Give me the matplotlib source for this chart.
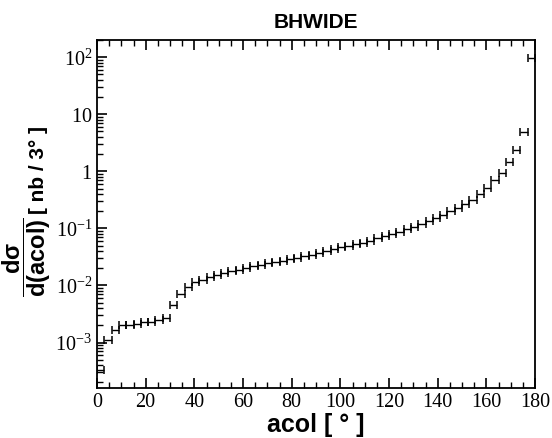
import matplotlib
matplotlib.use("Agg")
import matplotlib.pyplot as plt
import matplotlib.ticker as mticker
import numpy as np

plt.rcParams['mathtext.fontset'] = 'custom'
plt.rcParams['mathtext.rm'] = 'Liberation Serif'
plt.rcParams['mathtext.bf'] = 'Liberation Sans:bold'
plt.rcParams['mathtext.it'] = 'Liberation Serif:italic'

# bin centres (3 degree bins) and values
acol = [1.5, 4.5, 7.5, 10.5, 13.5, 16.5, 19.5, 22.5, 25.5, 28.5,
        31.5, 34.5, 37.5, 40.5, 43.5, 46.5, 49.5, 52.5, 55.5, 58.5,
        61.5, 64.5, 67.5, 70.5, 73.5, 76.5, 79.5, 82.5, 85.5, 88.5,
        91.5, 94.5, 97.5, 100.5, 103.5, 106.5, 109.5, 112.5, 115.5, 118.5,
        121.5, 124.5, 127.5, 130.5, 133.5, 136.5, 139.5, 142.5, 145.5, 148.5,
        151.5, 154.5, 157.5, 160.5, 163.5, 166.5, 169.5, 172.5, 175.5, 178.5]
dsig = [3.3e-4, 1.12e-3, 1.66e-3, 2.0e-3, 2.05e-3, 2.1e-3, 2.25e-3, 2.3e-3, 2.45e-3, 2.7e-3,
        4.5e-3, 7.2e-3, 9.3e-3, 1.15e-2, 1.24e-2, 1.4e-2, 1.55e-2, 1.66e-2, 1.82e-2, 1.9e-2,
        2.03e-2, 2.17e-2, 2.25e-2, 2.5e-2, 2.55e-2, 2.73e-2, 2.9e-2, 3.03e-2, 3.25e-2, 3.47e-2,
        3.7e-2, 3.97e-2, 4.3e-2, 4.65e-2, 4.98e-2, 5.3e-2, 5.6e-2, 6.1e-2, 6.7e-2, 7.4e-2,
        8.1e-2, 8.8e-2, 9.6e-2, 0.107, 0.12, 0.135, 0.155, 0.175, 0.20, 0.23,
        0.27, 0.32, 0.40, 0.52, 0.70, 0.95, 1.45, 2.4, 4.8, 95.0]
half_width = 1.5

xticks = [0, 20, 40, 60, 80, 100, 120, 140, 160, 180]
yticks = [1e-3, 1e-2, 1e-1, 1, 10, 100]
ylabels = [r'$\mathrm{10^{-3}}$', r'$\mathrm{10^{-2}}$', r'$\mathrm{10^{-1}}$',
           r'$\mathrm{1}$', r'$\mathrm{10}$', r'$\mathrm{10^{2}}$']

W, H = 552, 438
fig = plt.figure(figsize=(W / 100, H / 100), dpi=100)
ax = fig.add_axes([97 / W, 1 - 388 / H, (535 - 97) / W, (388 - 40) / H])

ax.errorbar(acol, dsig, xerr=half_width, fmt='none', ecolor='black',
            elinewidth=1.0, capsize=2.8, capthick=1.1)

ax.set_yscale('log')
ax.set_xlim(0, 180)
ax.set_ylim(1.6e-4, 200)
ax.set_xticks(xticks)
ax.set_xticklabels([str(t) for t in xticks], family='Liberation Serif')
ax.xaxis.set_minor_locator(mticker.MultipleLocator(5))
ax.set_yticks(yticks)
ax.set_yticklabels(ylabels)
ax.yaxis.set_minor_locator(mticker.LogLocator(base=10, subs=np.arange(2, 10), numticks=20))
ax.yaxis.set_minor_formatter(mticker.NullFormatter())

ax.tick_params(axis='both', which='both', direction='in', labelsize=14.5)
ax.tick_params(axis='x', which='both', top=True)
ax.tick_params(axis='y', which='both', right=False)
ax.tick_params(which='major', length=7, width=1.2)
ax.tick_params(which='minor', length=4, width=1.0)
for s in ax.spines.values():
    s.set_linewidth(1.3)

ax.set_title('BHWIDE', family='Liberation Sans', fontweight='bold', fontsize=15, pad=9)
ax.set_xlabel('acol [ ° ]', family='Liberation Sans', fontweight='bold', fontsize=18, labelpad=1)

# y label: fraction + unit as two rotated texts
fig.text(27 / W, 1 - 257 / H, r'$\dfrac{\mathbf{dσ}}{\mathbf{d(acol)}}$',
         rotation=90, ha='center', va='center', fontsize=17)
fig.text(39 / W, 1 - 170 / H, '[ nb / 3° ]', family='Liberation Sans',
         fontweight='bold', rotation=90, ha='center', va='center', fontsize=15)

fig.savefig('out.png', dpi=100)
